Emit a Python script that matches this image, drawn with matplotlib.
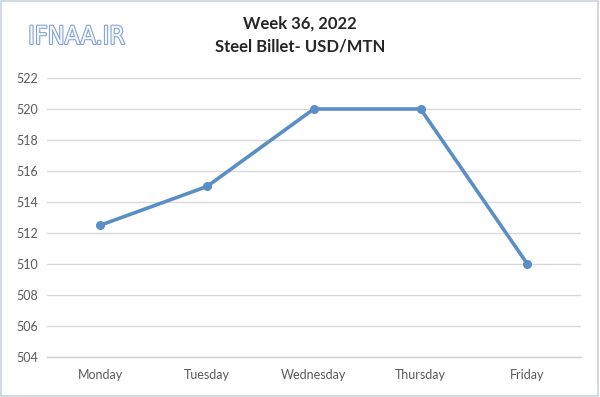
import matplotlib
matplotlib.use("Agg")
import matplotlib.pyplot as plt
import matplotlib.patheffects as pe
from matplotlib.patches import Rectangle

days = ["Monday", "Tuesday", "Wednesday", "Thursday", "Friday"]
prices = [512.5, 515, 520, 520, 510]
yticks = [504, 506, 508, 510, 512, 514, 516, 518, 520, 522]

plt.rcParams['font.family'] = ['Lato', 'DejaVu Sans']

fig = plt.figure(figsize=(6.0, 3.97), dpi=100)
ax = fig.add_axes([0.078, 0.1008, 0.890, 0.7027])

x = list(range(len(days)))
ax.plot(x, prices, color="#5a8fc6", linewidth=2.6, marker="o", markersize=5.5,
        solid_capstyle="round", solid_joinstyle="round", zorder=3)

ax.set_xlim(-0.5, len(days) - 0.5)
ax.set_ylim(504, 522)
ax.set_yticks(yticks)
ax.set_yticklabels([str(v) for v in yticks])
ax.set_xticks(x)
ax.set_xticklabels(days)
ax.grid(axis="y", color="#d9d9d9", linewidth=1.0)
ax.set_axisbelow(True)
for s in ["top", "right", "left"]:
    ax.spines[s].set_visible(False)
ax.spines["bottom"].set_color("#d0d0d0")
ax.spines["bottom"].set_linewidth(1.0)
ax.tick_params(axis="both", length=0, labelsize=9, colors="#595959")
ax.tick_params(axis="y", pad=6)
ax.tick_params(axis="x", pad=9)

fig.text(0.5, 0.942, "Week 36, 2022", ha="center", va="center",
         fontsize=12, fontweight="bold", color="#262626")
fig.text(0.5, 0.884, "Steel Billet- USD/MTN", ha="center", va="center",
         fontsize=12, fontweight="bold", color="#262626")

fig.text(0.128, 0.907, "IFNAA.IR", ha="center", va="center", fontsize=18,
         color="#f4f8fd", family=["DejaVu Sans"], stretch="condensed",
         path_effects=[pe.withStroke(linewidth=1.5, foreground="#7f9fd4")])

fig.patches.append(Rectangle((0.002, 0.003), 0.994, 0.994, transform=fig.transFigure,
                             fill=False, edgecolor="#c9d3e0", linewidth=1.2))

fig.savefig("out.png", dpi=100)
